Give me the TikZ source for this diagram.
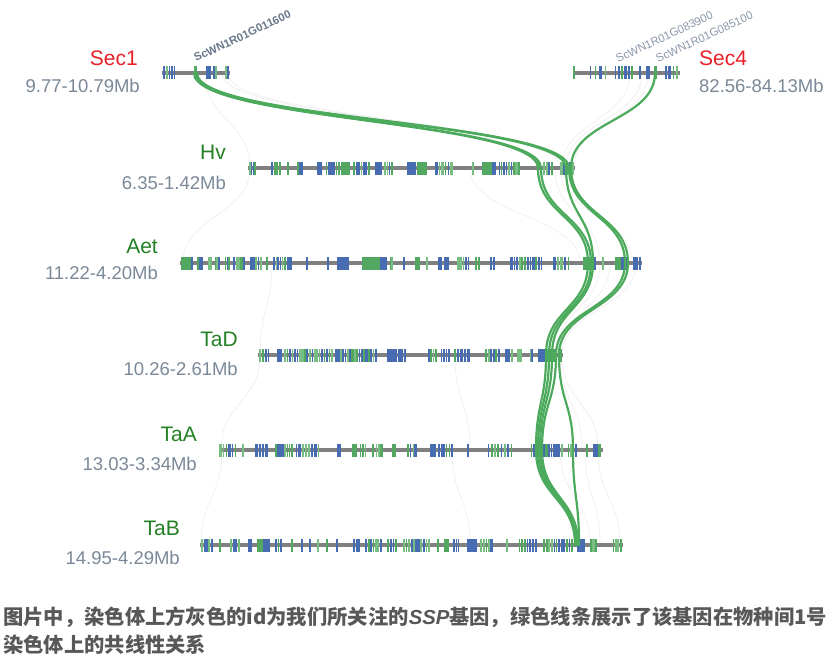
\documentclass[tikz,border=0pt]{standalone}
\usepackage{fontspec}
\setmainfont{Liberation Sans}
\newfontfamily\cjk{Noto Sans CJK SC}
\newfontfamily\latinf{Liberation Sans}
\definecolor{cb}{RGB}{72,108,178}
\definecolor{cg}{RGB}{82,168,96}
\definecolor{cgl}{RGB}{120,190,130}
\definecolor{cbar}{RGB}{128,128,128}
\definecolor{lgreen}{RGB}{76,170,92}
\definecolor{labred}{RGB}{232,32,40}
\definecolor{labgreen}{RGB}{36,128,36}
\definecolor{mbgray}{RGB}{122,136,152}
\definecolor{idgray}{RGB}{136,150,168}
\definecolor{iddark}{RGB}{105,120,138}
\definecolor{capgray}{RGB}{88,88,88}
\definecolor{faint}{RGB}{238,238,238}
\newcommand\cl[4]{\foreach \i in {1,...,#4}{\pgfmathsetmacro\xx{#2+(#3-#2)*(\i-0.5)/#4}\pgfmathsetmacro\ww{0.6+0.7*rnd}\pgfmathtruncatemacro\cc{random(0,3)}\ifcase\cc\def\col{cb}\or\def\col{cg}\or\def\col{cb}\else\def\col{cgl}\fi\fill[\col] (\xx-\ww,#1-6.5) rectangle (\xx+\ww,#1+6.5);}}
\newcommand\bk[4]{\fill[#4] (#2,#1-6.5) rectangle (#3,#1+6.5);}
\newcommand\lk[4]{\draw[glink] (#1,#2) .. controls (#1,{(#2+#4)/2}) and (#3,{(#2+#4)/2}) .. (#3,#4);}
\newcommand\fk[4]{\draw[flink] (#1,#2) .. controls (#1,{(#2+#4)/2}) and (#3,{(#2+#4)/2}) .. (#3,#4);}
\begin{document}
\begin{tikzpicture}[x=1pt,y=-1pt,
  bar/.style={draw=cbar,line width=3.2pt},
  glink/.style={draw=lgreen,line width=2.2pt,line cap=round},
  flink/.style={draw=faint,line width=0.7pt},
  chrname/.style={font=\fontsize{21}{25}\selectfont,inner sep=0pt},
  chrmb/.style={font=\fontsize{18.5}{22}\selectfont,text=mbgray,inner sep=0pt},
  geneid/.style={font=\fontsize{11.3}{13}\selectfont,text=idgray,inner sep=0pt,anchor=base west,rotate=25},
  caption/.style={font=\cjk\bfseries\fontsize{20.3}{24}\selectfont,text=capgray,inner sep=0pt,anchor=base west}]
\useasboundingbox (0,0) rectangle (840,666);
\pgfmathsetseed{4242}
% faint background links
\fk{205}{73}{250}{168}\fk{222}{73}{560}{168}\fk{228}{73}{566}{168}
\fk{630}{73}{562}{168}\fk{642}{73}{566}{168}\fk{648}{73}{574}{168}
\fk{250}{168}{183}{263}\fk{470}{168}{580}{263}\fk{555}{168}{600}{263}\fk{560}{168}{632}{263}
\fk{272}{263}{260}{355}\fk{600}{263}{556}{355}\fk{636}{263}{562}{355}\fk{610}{263}{560}{355}
\fk{260}{355}{221}{450}\fk{455}{355}{470}{450}\fk{560}{355}{582}{450}\fk{562}{355}{598}{450}
\fk{222}{450}{201}{545}\fk{452}{450}{470}{545}\fk{585}{450}{600}{545}\fk{598}{450}{620}{545}\fk{560}{450}{590}{545}
% bars
\draw[bar] (162,73) -- (230,73);
\draw[bar] (573,73) -- (680,73);
\draw[bar] (248,168) -- (575,168);
\draw[bar] (180,263) -- (642,263);
\draw[bar] (258,355) -- (563,355);
\draw[bar] (219,450) -- (603,450);
\draw[bar] (200,545) -- (623,545);
% ticks Sec1
\cl{73}{163}{176}{5}\bk{73}{193.5}{196.5}{cg}\bk{73}{206}{211}{cb}\cl{73}{213}{217}{2}\cl{73}{225}{229}{2}
% Sec4
\cl{73}{574}{574}{1}\cl{73}{588}{608}{4}\cl{73}{614}{634}{6}\cl{73}{639}{641}{1}\bk{73}{646}{650}{cb}\bk{73}{654}{656.5}{cg}\cl{73}{664}{679}{4}
% Hv
\cl{168}{249}{256}{4}\cl{168}{271}{281}{4}\cl{168}{288}{288}{1}\cl{168}{297}{303}{3}\bk{168}{317}{322}{cb}\cl{168}{325}{340}{6}\bk{168}{341}{350}{cg}\cl{168}{353}{370}{7}\bk{168}{375}{382}{cb}\cl{168}{384}{393}{4}\cl{168}{407}{416}{4}\bk{168}{417}{427}{cg}\cl{168}{435}{453}{6}\cl{168}{473}{473}{1}\bk{168}{482}{492}{cg}\bk{168}{492}{496}{cb}\cl{168}{498}{520}{9}\cl{168}{538}{538}{1}\cl{168}{543}{553}{4}\cl{168}{560}{574}{5}
% Aet
\cl{263}{181}{193}{6}\cl{263}{197}{203}{3}\cl{263}{208}{212}{2}\cl{263}{215}{220}{3}\cl{263}{225}{230}{3}\cl{263}{233}{245}{5}\cl{263}{250}{262}{5}\cl{263}{267}{267}{1}\cl{263}{273}{286}{6}\bk{263}{287}{292}{cb}\cl{263}{307}{307}{1}\cl{263}{328}{328}{1}\bk{263}{337}{349}{cb}\bk{263}{362}{380}{cg}\bk{263}{380}{387}{cb}\cl{263}{390}{393}{2}\cl{263}{403}{405}{1}\bk{263}{415}{420}{cg}\cl{263}{427}{427}{1}\bk{263}{438}{442}{cb}\bk{263}{444}{449}{cb}\cl{263}{457}{470}{5}\cl{263}{475}{480}{2}\cl{263}{490}{495}{2}\cl{263}{510}{543}{12}\cl{263}{553}{570}{5}\bk{263}{583}{592}{cg}\cl{263}{595}{595}{1}\cl{263}{603}{603}{1}\bk{263}{615}{621}{cg}\bk{263}{621}{627}{cb}\cl{263}{633}{641}{3}
% TaD
\cl{355}{259}{270}{4}\bk{355}{277}{282}{cb}\cl{355}{284}{333}{20}\cl{355}{335}{377}{18}\bk{355}{387}{397}{cb}\bk{355}{398}{403}{cb}\cl{355}{405}{405}{1}\cl{355}{428}{437}{4}\cl{355}{440}{450}{4}\cl{355}{453}{470}{5}\cl{355}{485}{500}{6}\cl{355}{505}{513}{3}\cl{355}{517}{522}{2}\cl{355}{530}{533}{2}\bk{355}{538}{545}{cb}\bk{355}{545}{552}{cg}\cl{355}{553}{562}{4}
% TaA
\cl{450}{219}{237}{6}\cl{450}{243}{243}{1}\cl{450}{255}{268}{4}\cl{450}{275}{293}{8}\cl{450}{295}{320}{8}\bk{450}{337}{341}{cb}\bk{450}{352}{357}{cg}\cl{450}{359}{367}{3}\cl{450}{372}{383}{4}\bk{450}{392}{396}{cg}\cl{450}{407}{417}{4}\bk{450}{430}{436}{cb}\cl{450}{438}{453}{6}\cl{450}{468}{468}{1}\cl{450}{487}{513}{8}\cl{450}{530}{538}{3}\cl{450}{540}{563}{9}\cl{450}{567}{577}{4}\cl{450}{587}{587}{1}\cl{450}{593}{601}{3}
% TaB
\cl{545}{201}{213}{5}\cl{545}{220}{220}{1}\cl{545}{230}{240}{4}\cl{545}{248}{252}{2}\bk{545}{257}{263}{cg}\bk{545}{263}{270}{cb}\cl{545}{275}{282}{3}\cl{545}{292}{292}{1}\cl{545}{302}{302}{1}\cl{545}{310}{310}{1}\cl{545}{318}{318}{1}\cl{545}{327}{327}{1}\cl{545}{337}{337}{1}\cl{545}{353}{360}{3}\cl{545}{365}{382}{7}\cl{545}{387}{397}{4}\cl{545}{403}{430}{11}\cl{545}{438}{438}{1}\bk{545}{444}{449}{cg}\cl{545}{453}{460}{3}\bk{545}{467}{477}{cb}\cl{545}{480}{493}{5}\cl{545}{507}{507}{1}\cl{545}{518}{537}{7}\cl{545}{543}{573}{12}\bk{545}{577}{585}{cb}\cl{545}{590}{597}{3}\cl{545}{612}{622}{4}
% green links
\lk{194}{73}{538}{168}\lk{196}{73}{541}{168}\lk{195}{73}{566}{168}\lk{197}{73}{569}{168}
\lk{655}{73}{571}{168}
\lk{538}{168}{588}{263}\lk{541}{168}{591}{263}\lk{566}{168}{593}{263}\lk{569}{168}{625}{263}\lk{571}{168}{628}{263}
\lk{588}{263}{546}{355}\lk{591}{263}{549}{355}\lk{593}{263}{552}{355}\lk{625}{263}{556}{355}\lk{628}{263}{559}{355}
\lk{546}{355}{536}{450}\lk{549}{355}{538}{450}\lk{552}{355}{540}{450}\lk{556}{355}{542}{450}\lk{559}{355}{573}{450}
\lk{536}{450}{575}{545}\lk{538}{450}{576}{545}\lk{540}{450}{577}{545}\lk{542}{450}{578}{545}\lk{573}{450}{579}{545}
% labels
\node[chrname,text=labred,anchor=base east] (sec1) at (138,65.5) {Sec1};
\node[chrmb,anchor=base east] (sec1mb) at (140,93) {9.77-10.79Mb};
\node[chrname,text=labred,anchor=base west] (sec4) at (699,65.5) {Sec4};
\node[chrmb,anchor=base west] (sec4mb) at (699,93) {82.56-84.13Mb};
\node[chrname,text=labgreen,anchor=base east] (hv) at (226,159.5) {Hv};
\node[chrmb,anchor=base east] (hvmb) at (226,189) {6.35-1.42Mb};
\node[chrname,text=labgreen,anchor=base east] (aet) at (158,253.5) {Aet};
\node[chrmb,anchor=base east] (aetmb) at (158,279) {11.22-4.20Mb};
\node[chrname,text=labgreen,anchor=base east] (tad) at (238,346.5) {TaD};
\node[chrmb,anchor=base east] (tadmb) at (238,375) {10.26-2.61Mb};
\node[chrname,text=labgreen,anchor=base east] (taa) at (197,441.5) {TaA};
\node[chrmb,anchor=base east] (taamb) at (197,470) {13.03-3.34Mb};
\node[chrname,text=labgreen,anchor=base east] (tab) at (180,535.5) {TaB};
\node[chrmb,anchor=base east] (tabmb) at (180,564) {14.95-4.29Mb};
% gene ids
\node[geneid,text=iddark,font=\bfseries\fontsize{11.3}{13}\selectfont] (g1) at (196,62) {ScWN1R01G011600};
\node[geneid] (g2) at (618,63) {ScWN1R01G083900};
\node[geneid] (g3) at (658,63) {ScWN1R01G085100};
% caption
\node[caption] (cap1) at (3,624) {图片中，染色体上方灰色的id为我们所关注的{\latinf\bfseries\itshape SSP}基因，绿色线条展示了该基因在物种间1号};
\node[caption] (cap2) at (3,652) {染色体上的共线性关系};
\end{tikzpicture}
\end{document}
